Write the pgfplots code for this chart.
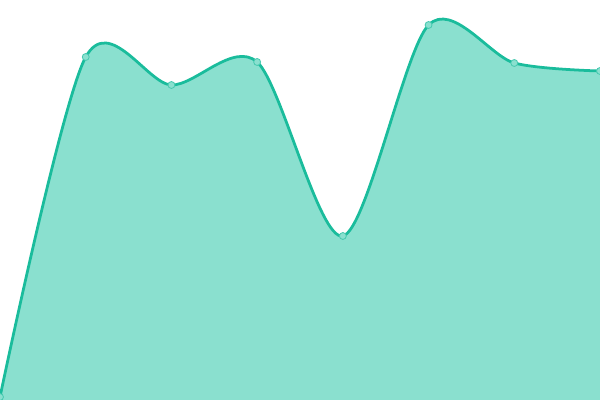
\documentclass[border=0pt]{standalone}
\usepackage{pgfplots}
\pgfplotsset{compat=1.18}
\definecolor{turq}{HTML}{1ABC9C}
\definecolor{turqfill}{HTML}{8AE0CF}
\pgfplotstableread{
x y
0 3
1 343
2 315
3 338
4 164
5 375
6 337
7 329
}\datatable
\begin{document}
\begin{tikzpicture}
\begin{axis}[
    scale only axis,
    width=6in, height=4in,
    hide axis,
    xmin=0, xmax=7,
    ymin=0, ymax=400,
    clip marker paths=true,
]
\addplot[draw=none, fill=turqfill, smooth, tension=0.5] table[x=x,y=y] {\datatable} \closedcycle;
\addplot[turq, line width=2pt, smooth, tension=0.5,
    mark=*, mark size=2.5pt,
    mark options={fill=turqfill, draw=turq!80, line width=0.6pt}] table[x=x,y=y] {\datatable};
\end{axis}
\end{tikzpicture}
\end{document}
